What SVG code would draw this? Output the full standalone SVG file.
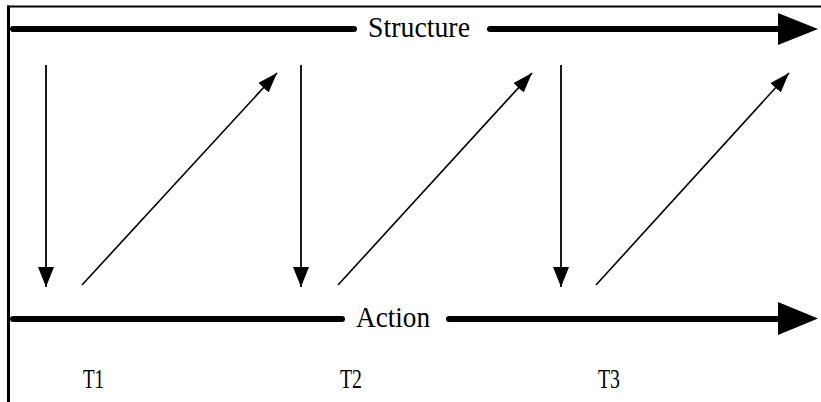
<svg xmlns="http://www.w3.org/2000/svg" width="821" height="402" viewBox="0 0 821 402">
<style>
.thick{stroke:#000;stroke-width:6;stroke-linecap:round;fill:none}
.thin{stroke:#000;stroke-width:1.8;fill:none}
.diag{stroke:#000;stroke-width:1.6;fill:none}
</style>
<defs>
<marker id="ah" viewBox="0 0 20 16" refX="20" refY="8" markerWidth="20" markerHeight="16" markerUnits="userSpaceOnUse" orient="auto">
<path d="M0,0 L20,8 L0,16 Z" fill="#000"/>
</marker>
<marker id="ahd" viewBox="0 0 20 14" refX="20" refY="7" markerWidth="20" markerHeight="14" markerUnits="userSpaceOnUse" orient="auto">
<path d="M0,0 L20,7 L0,14 Z" fill="#000"/>
</marker>
</defs>
<rect x="0" y="0" width="821" height="402" fill="#fff"/>
<g id="frame">
<line x1="8.5" y1="5.5" x2="8.5" y2="402" stroke="#000" stroke-width="3"/>
<line x1="7" y1="6.5" x2="821" y2="6.5" stroke="#000" stroke-width="2"/>
</g>
<g font-family="'Liberation Serif', 'DejaVu Serif', serif" fill="#000">
<g id="structure">
<line class="thick" x1="13" y1="29" x2="354" y2="29"/>
<line class="thick" x1="490" y1="29" x2="780" y2="29"/>
<path d="M778,13 L818,29 L778,45 Z" fill="#000"/>
<text x="368" y="37" font-size="29" textLength="102" lengthAdjust="spacingAndGlyphs">Structure</text>
</g>
<g id="action">
<line class="thick" x1="13" y1="319" x2="342" y2="319"/>
<line class="thick" x1="449" y1="319" x2="780" y2="319"/>
<path d="M778,302 L818,318.5 L778,335 Z" fill="#000"/>
<text x="356" y="327" font-size="29" textLength="74" lengthAdjust="spacingAndGlyphs">Action</text>
</g>
<g id="t1"><text x="83" y="388" font-size="27" textLength="21" lengthAdjust="spacingAndGlyphs">T1</text></g>
<g id="t2"><text x="340" y="388" font-size="27" textLength="22" lengthAdjust="spacingAndGlyphs">T2</text></g>
<g id="t3"><text x="598" y="388" font-size="27" textLength="22" lengthAdjust="spacingAndGlyphs">T3</text></g>
</g>
<g id="connectors">
<line class="thin" x1="46" y1="65" x2="46" y2="287" marker-end="url(#ah)"/>
<line class="thin" x1="301" y1="65" x2="301" y2="287" marker-end="url(#ah)"/>
<line class="thin" x1="561" y1="65" x2="561" y2="287" marker-end="url(#ah)"/>
<line class="diag" x1="82" y1="285" x2="277" y2="73" marker-end="url(#ahd)"/>
<line class="diag" x1="338" y1="285" x2="532" y2="73" marker-end="url(#ahd)"/>
<line class="diag" x1="596" y1="285" x2="789" y2="73" marker-end="url(#ahd)"/>
</g>
</svg>
